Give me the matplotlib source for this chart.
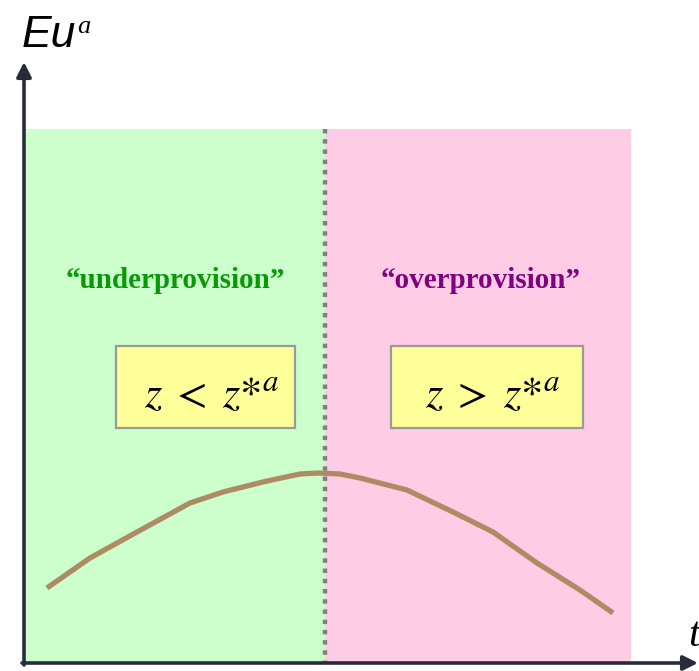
import matplotlib
matplotlib.use("Agg")
import matplotlib.pyplot as plt
from matplotlib.patches import Rectangle

# schematic curve (figure-pixel units, y grows downward)
t_vals = [47, 90, 137, 190, 223, 267, 300, 318, 340, 360, 407, 453, 493, 537, 580, 613]
eu_vals = [588, 558, 532, 503, 492, 481, 474, 473, 474, 478, 490, 512, 532, 563, 590, 613]

z_star = 325
region_left = 25
region_right = 631
region_top = 129
axis_y = 663

labels = ["\u201cunderprovision\u201d", "\u201coverprovision\u201d"]
label_x = [175, 481]
label_colors = ["#079a07", "#800080"]
conditions = [r"$z\;<\;z\mathrm{*}^{a}$", r"$z\;>\;z\mathrm{*}^{a}$"]
boxes = [(116, 295), (391, 583)]

plt.rcParams["mathtext.fontset"] = "stix"

fig = plt.figure(figsize=(6.99, 6.71), dpi=100)
ax = fig.add_axes([0, 0, 1, 1])
ax.set_xlim(0, 699)
ax.set_ylim(671, 0)
ax.axis("off")

# shaded regions
ax.add_patch(Rectangle((region_left, region_top), z_star - region_left, axis_y - region_top,
                       facecolor="#ccffcc", edgecolor="none", zorder=0))
ax.add_patch(Rectangle((z_star, region_top), region_right - z_star, axis_y - region_top,
                       facecolor="#ffcce5", edgecolor="none", zorder=0))

# dotted divider
ax.plot([z_star, z_star], [region_top, axis_y], color="#808080", lw=3.2,
        linestyle=(0, (1.0, 1.3)), solid_capstyle="butt", zorder=2)

# curve
ax.plot(t_vals, eu_vals, color="#ae8b63", lw=3.8, solid_capstyle="butt",
        solid_joinstyle="round", zorder=3)

# axes arrows
ax_col = "#2a2b38"
ax.annotate("", xy=(24, 62), xytext=(24, axis_y + 2),
            arrowprops=dict(arrowstyle="-|>", color=ax_col, lw=2.6, mutation_scale=22,
                            shrinkA=0, shrinkB=0), zorder=4)
ax.annotate("", xy=(698, axis_y), xytext=(22, axis_y),
            arrowprops=dict(arrowstyle="-|>", color=ax_col, lw=2.6, mutation_scale=22,
                            shrinkA=0, shrinkB=0), zorder=4)

# axis labels
ax.text(22, 47, "Eu", fontfamily="Liberation Sans", fontstyle="italic", fontsize=32,
        ha="left", va="baseline", color="black")
ax.text(77, 33, "a", fontfamily="Liberation Serif", fontstyle="italic", fontsize=19,
        ha="left", va="baseline", color="black")
ax.text(688, 646, "t", fontfamily="Liberation Serif", fontstyle="italic", fontsize=30,
        ha="left", va="baseline", color="black")

# region labels
for cx, lab, col in zip(label_x, labels, label_colors):
    ax.text(cx, 288, lab, fontfamily="Liberation Serif", fontweight="bold", fontsize=21,
            color=col, ha="center", va="baseline")

# condition boxes
for (x0, x1), cond in zip(boxes, conditions):
    ax.add_patch(Rectangle((x0, 346), x1 - x0, 82, facecolor="#ffff99",
                           edgecolor="#9a9a9a", lw=1.6, zorder=3))
    ax.text((x0 + x1) / 2 + 6, 408, cond, fontsize=32, ha="center", va="baseline", zorder=4)

fig.savefig("out.png", dpi=100)
